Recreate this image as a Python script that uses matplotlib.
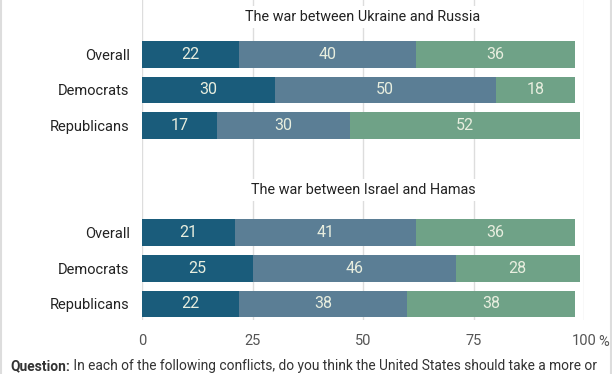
import numpy as np
import matplotlib.pyplot as plt
from matplotlib.lines import Line2D

plt.rcParams['font.family'] = ['Roboto', 'DejaVu Sans']

groups = ["Overall", "Democrats", "Republicans"]
panels = ["The war between Ukraine and Russia", "The war between Israel and Hamas"]

# more / less / about the same  (share in %)
ukraine_a = [22, 30, 17]
ukraine_b = [40, 50, 30]
ukraine_c = [36, 18, 52]
israel_a = [21, 25, 22]
israel_b = [41, 46, 38]
israel_c = [36, 28, 38]

colors = ["#1a5c7b", "#5b7e95", "#6fa287"]
txt_col = "#e8eedf"

fig = plt.figure(figsize=(6.12, 3.74), dpi=100)
ax = fig.add_axes([142/612, 1 - 320/374, (584 - 142)/612, 320/374])

rows_top = np.array([0, 1, 2])
rows_bot = np.array([5, 6, 7])

def draw_panel(rows, a, b, c):
    left = np.zeros(3)
    for vals, col in zip([a, b, c], colors):
        vals = np.array(vals)
        ax.barh(rows, vals, left=left, height=0.75, color=col, zorder=2)
        for y, l, v in zip(rows, left, vals):
            ax.text(l + v/2, y, str(v), ha="center", va="center",
                    color=txt_col, fontsize=11.5, zorder=3)
        left = left + vals

draw_panel(rows_top, ukraine_a, ukraine_b, ukraine_c)
draw_panel(rows_bot, israel_a, israel_b, israel_c)

ax.text(50, -1.05, panels[0], ha="center", va="center", fontsize=10.4,
        color="#222222", zorder=3,
        bbox=dict(facecolor="white", edgecolor="none", pad=3))
ax.text(50, 3.8, panels[1], ha="center", va="center", fontsize=10.4,
        color="#222222", zorder=3,
        bbox=dict(facecolor="white", edgecolor="none", pad=3))

ax.set_xlim(0, 100)
ax.set_ylim(7.45, -1.52)
ax.set_yticks(list(rows_top) + list(rows_bot))
ax.set_yticklabels(groups + groups, fontsize=10.5, color="#222222")
ax.set_xticks([0, 25, 50, 75, 100])
ax.set_xticklabels(["0", "25", "50", "75", "100"], fontsize=10.5, color="#555555")
ax.tick_params(length=0, pad=9)
ax.tick_params(axis="x", pad=10)
ax.text(103.3, -0.047, "%", transform=ax.get_xaxis_transform(), fontsize=10.5,
        color="#555555", va="top", ha="left")
for x in [0, 25, 50, 75, 100]:
    ax.axvline(x, color="#dddddd", lw=1, zorder=1)
for s in ax.spines.values():
    s.set_visible(False)

q = fig.text(10/612, 1 - 366/374, "Question:", fontsize=9.9, fontweight="bold",
             color="#333333", va="center")
fig.canvas.draw()
ax.annotate(" In each of the following conflicts, do you think the United States should take a more or",
            xy=(1, 0.5), xycoords=q, va="center", ha="left",
            fontsize=9.9, color="#333333", annotation_clip=False)

fig.add_artist(Line2D([0.5/612, 0.5/612], [0, 1], color="#dddddd", lw=1.5))
fig.add_artist(Line2D([611/612, 611/612], [0, 1], color="#dddddd", lw=1.5))

fig.savefig("out.png", dpi=100)
